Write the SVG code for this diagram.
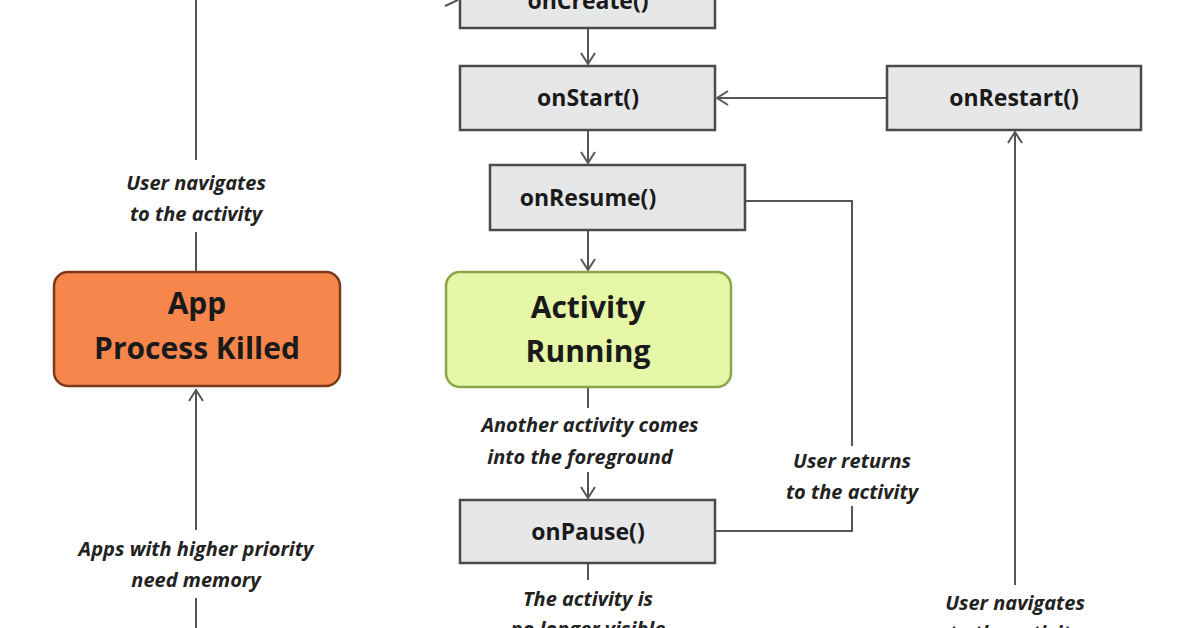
<svg xmlns="http://www.w3.org/2000/svg" width="1196" height="628" viewBox="0 0 1196 628">
<style>
.box{fill:#e6e7e9;stroke:#4a4a4a;stroke-width:2.5}
.t{font-family:"Open Sans","Liberation Sans",sans-serif;font-weight:bold;font-size:23px;fill:#1a1a1a;text-anchor:middle}
.big{font-family:"Open Sans","Liberation Sans",sans-serif;font-weight:bold;font-size:30px;fill:#1a1a1a;text-anchor:middle}
.lbl{font-family:"Open Sans","Liberation Sans",sans-serif;font-style:italic;font-weight:bold;font-size:20px;fill:#222;text-anchor:middle}
.c{fill:none;stroke:#555;stroke-width:2}
</style>
<defs><marker id="a" markerWidth="16" markerHeight="16" refX="13" refY="8" orient="auto" markerUnits="userSpaceOnUse"><path d="M2,1 L13,8 L2,15" fill="none" stroke="#555" stroke-width="2"/></marker></defs>
<rect width="1196" height="628" fill="#fff"/>
<g id="connectors">
<path class="c" d="M445,6 L458,0" />
<path class="c" d="M588,28 V64" marker-end="url(#a)"/>
<path class="c" d="M887,98 H717" marker-end="url(#a)"/>
<path class="c" d="M588,130 V163" marker-end="url(#a)"/>
<path class="c" d="M588,230 V270" marker-end="url(#a)"/>
<path class="c" d="M588,387 V408"/>
<path class="c" d="M588,472 V498" marker-end="url(#a)"/>
<path class="c" d="M715,531 H852 V201 H745"/>
<path class="c" d="M588,563 V580"/>
<path class="c" d="M1015,585 V132" marker-end="url(#a)"/>
<path class="c" d="M196,0 V160 M196,232 V272"/>
<path class="c" d="M196,530 V390" marker-end="url(#a)"/>
<path class="c" d="M196,598 V628"/>
</g>
<g id="onCreate"><rect class="box" x="460" y="-30" width="255" height="58"/><text class="t" x="588" y="9">onCreate()</text></g>
<g id="onStart"><rect class="box" x="460" y="66" width="255" height="64"/><text class="t" x="588" y="106">onStart()</text></g>
<g id="onRestart"><rect class="box" x="887" y="66" width="254" height="64"/><text class="t" x="1014" y="106">onRestart()</text></g>
<g id="onResume"><rect class="box" x="490" y="165" width="255" height="65"/><text class="t" x="588" y="206">onResume()</text></g>
<g id="running"><rect x="446" y="272" width="285" height="115" rx="14" fill="#e5f7a6" stroke="#8aa648" stroke-width="2.5"/><text class="big" x="588" y="318">Activity</text><text class="big" x="588" y="362">Running</text></g>
<g id="killed"><rect x="54" y="272" width="286" height="114" rx="14" fill="#f6864c" stroke="#7a3a1a" stroke-width="2.5"/><text class="big" x="197" y="314">App</text><text class="big" x="197" y="359">Process Killed</text></g>
<g id="onPause"><rect class="box" x="460" y="500" width="255" height="63"/><text class="t" x="588" y="540">onPause()</text></g>
<g id="labels">
<text class="lbl" x="196" y="190">User navigates</text><text class="lbl" x="196" y="221">to the activity</text>
<text class="lbl" x="196" y="556">Apps with higher priority</text><text class="lbl" x="196" y="587">need memory</text>
<text class="lbl" x="590" y="432">Another activity comes</text><text class="lbl" x="580" y="464">into the foreground</text>
<rect x="770" y="446" width="160" height="60" fill="#fff"/>
<text class="lbl" x="852" y="468">User returns</text><text class="lbl" x="852" y="499">to the activity</text>
<text class="lbl" x="588" y="606">The activity is</text><text class="lbl" x="588" y="636">no longer visible</text>
<text class="lbl" x="1015" y="610">User navigates</text><text class="lbl" x="1015" y="640">to the activity</text>
</g>
</svg>
